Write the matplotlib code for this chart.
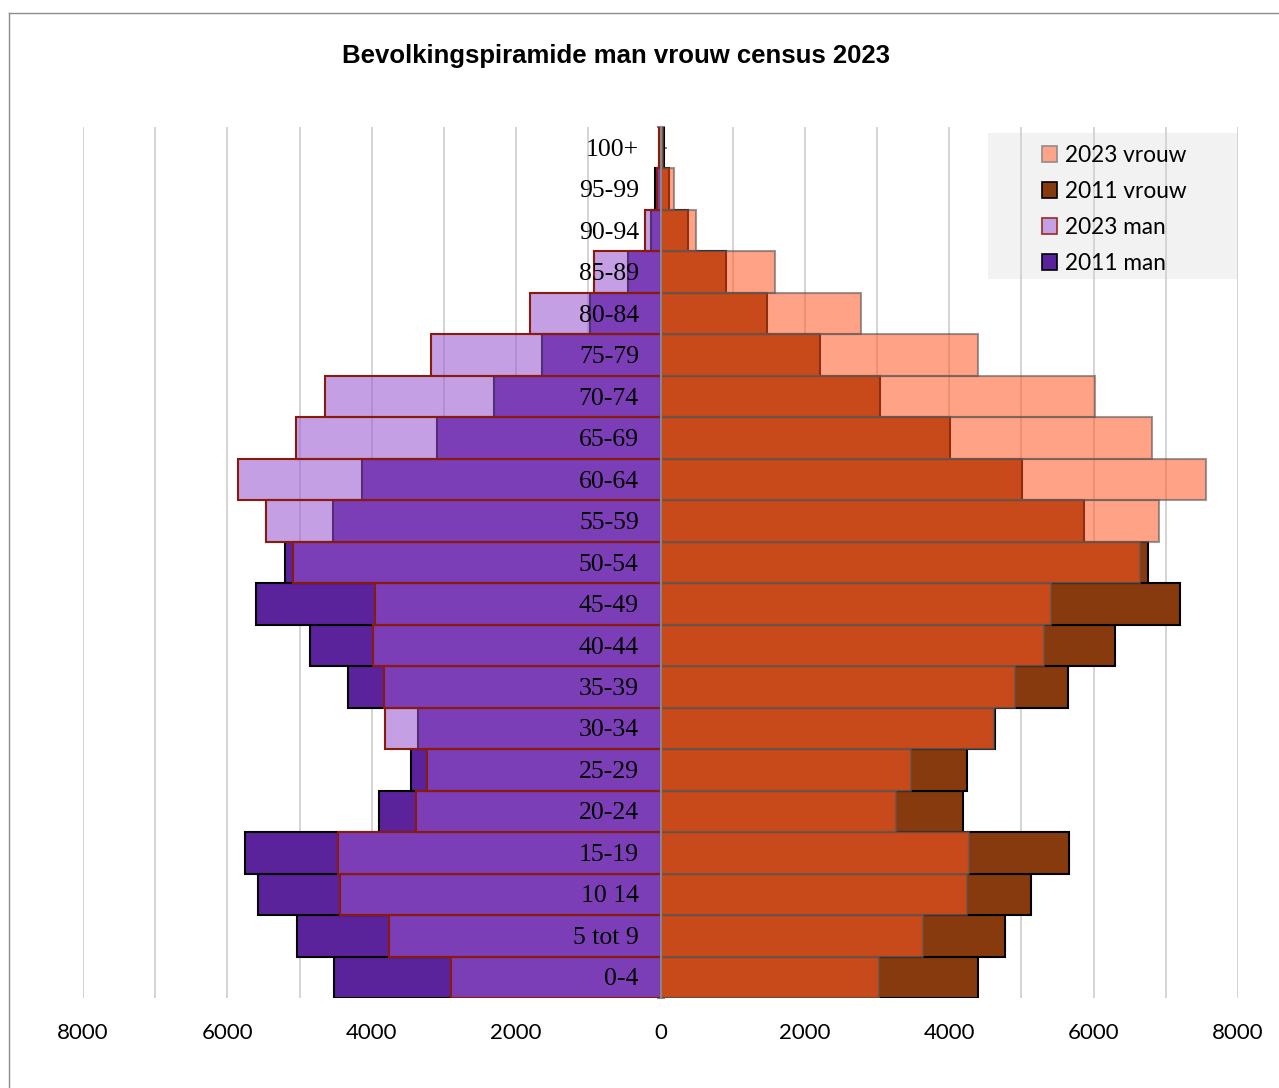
import numpy as np
import matplotlib
matplotlib.use("Agg")
import matplotlib.pyplot as plt
from matplotlib.patches import Patch, Rectangle
from matplotlib.lines import Line2D
from matplotlib.transforms import offset_copy

# age groups, bottom to top
labels = ['0-4', '5 tot 9', '10 14', '15-19', '20-24', '25-29', '30-34', '35-39',
          '40-44', '45-49', '50-54', '55-59', '60-64', '65-69', '70-74', '75-79',
          '80-84', '85-89', '90-94', '95-99', '100+']

man_2011 = [4520, 5042, 5578, 5758, 3902, 3463, 3358, 4324, 4851, 5610, 5195,
            4534, 4133, 3103, 2310, 1640, 980, 448, 138, 70, 15]
man_2023 = [2905, 3758, 4433, 4465, 3385, 3232, 3821, 3825, 3982, 3950, 5093,
            5462, 5850, 5056, 4653, 3174, 1802, 924, 217, 55, 20]
vrouw_2011 = [4398, 4768, 5137, 5664, 4190, 4250, 4640, 5641, 6292, 7198, 6751,
              5866, 5012, 4010, 3035, 2208, 1469, 910, 383, 115, 45]
vrouw_2023 = [3022, 3636, 4250, 4269, 3262, 3465, 4620, 4906, 5308, 5410, 6646,
              6900, 7554, 6805, 6020, 4398, 2772, 1585, 494, 185, 40]

y = np.arange(len(labels))

fig = plt.figure(figsize=(12.79, 10.88), dpi=100)
ax = fig.add_axes([83 / 1279, 90 / 1088, 1155 / 1279, 871 / 1088])

# 2011 solid, 2023 semi-transparent on top
ax.barh(y, -np.array(man_2011), height=1.0, color='#5B239B', edgecolor='black',
        linewidth=1.5, zorder=2)
ax.barh(y, np.array(vrouw_2011), height=1.0, color='#873A0E', edgecolor='black',
        linewidth=1.5, zorder=2)
ax.barh(y, -np.array(man_2023), height=1.0, color=(0.584, 0.329, 0.808, 0.555),
        edgecolor='#8B1A0A', linewidth=1.5, zorder=3)
ax.barh(y, np.array(vrouw_2023), height=1.0, color=(1.0, 0.341, 0.137, 0.55),
        edgecolor=(0.35, 0.35, 0.35, 0.6), linewidth=1.5, zorder=3)

# category labels sit inside the plot, right-aligned next to the axis
lab_tr = offset_copy(ax.transData, fig=fig, x=0, y=-1.5, units='points')
for yi, lab in zip(y, labels):
    ax.text(-300, yi, lab, ha='right', va='center', fontsize=18.5,
            family='Liberation Serif', color='black', zorder=5, transform=lab_tr)

ax.set_xlim(-8000, 8000)
ax.set_ylim(-0.5, len(labels) - 0.5)

ax.set_xticks(np.arange(-8000, 8001, 2000))
ax.set_xticklabels([str(abs(v)) for v in range(-8000, 8001, 2000)],
                   family='Lato', fontsize=16)
ax.set_xticks(np.arange(-8000, 8001, 1000), minor=True)
ax.tick_params(axis='x', which='both', length=0, pad=18)
ax.grid(axis='x', which='both', color='#D4D4D4', linewidth=1.4, zorder=0.5)
ax.set_axisbelow(True)

# vertical axis through zero
for s in ['top', 'right', 'bottom']:
    ax.spines[s].set_visible(False)
ax.spines['left'].set_position(('data', 0))
ax.spines['left'].set_color('#888888')
ax.spines['left'].set_linewidth(1.5)
ax.spines['left'].set_zorder(4)
ax.set_yticks(y)
ax.set_yticklabels([])
ax.set_yticks(np.arange(-0.5, len(labels), 1.0), minor=True)
ax.tick_params(axis='y', which='major', direction='in', length=4, color='#888888', width=1.5)
ax.tick_params(axis='y', which='minor', direction='inout', length=6, color='#888888', width=1.5)

# legend box
ax.add_patch(Rectangle((0.7835, 0.8255), 0.2165, 0.1675, transform=ax.transAxes,
                       facecolor='#F2F2F2', edgecolor='none', zorder=0.4))
handles = [
    Patch(facecolor='#FFA488', edgecolor='#8C8C8C', linewidth=1.2),
    Patch(facecolor='#873A0E', edgecolor='black', linewidth=1.2),
    Patch(facecolor='#C4A0E4', edgecolor='#A0281A', linewidth=1.2),
    Patch(facecolor='#5B239B', edgecolor='black', linewidth=1.2),
]
names = ['2023 vrouw', '2011 vrouw', '2023 man', '2011 man']
leg = ax.legend(handles, names, loc='upper left', bbox_to_anchor=(0.824, 0.987),
                frameon=False, prop={'family': 'Lato', 'size': 16.3},
                handlelength=0.7, handleheight=0.7, handletextpad=0.35,
                labelspacing=0.66, borderaxespad=0, borderpad=0.3)
leg.set_zorder(6)

fig.text(616 / 1279, 1 - 56 / 1088, 'Bevolkingspiramide man vrouw census 2023',
         ha='center', va='center', fontsize=18.5, fontweight='bold',
         family='Liberation Sans')

# chart area border (left and top visible)
fig.add_artist(Line2D([9 / 1279, 1.0], [1 - 13 / 1088, 1 - 13 / 1088],
                      transform=fig.transFigure, color='#8C8C8C', linewidth=1))
fig.add_artist(Line2D([9 / 1279, 9 / 1279], [0, 1 - 13 / 1088],
                      transform=fig.transFigure, color='#8C8C8C', linewidth=1))

fig.savefig('out.png', dpi=100)
